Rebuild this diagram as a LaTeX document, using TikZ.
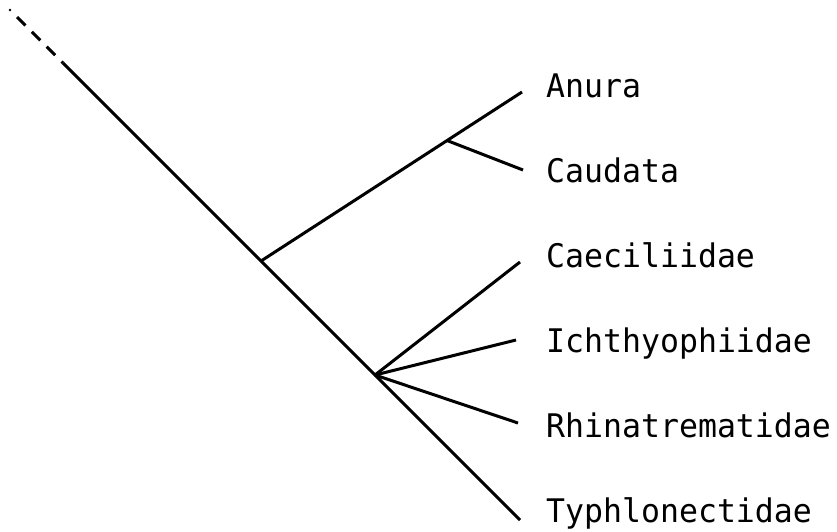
\documentclass[tikz,border=0pt]{standalone}
\usepackage{fontspec}
\newfontfamily\lblfont[FakeStretch=0.97]{DejaVu Sans Mono}
\begin{document}
\begin{tikzpicture}[x=1pt,y=-1pt,
  branch/.style={line width=3pt},
  taxon/.style={anchor=base west,inner sep=0pt,font=\lblfont\fontsize{32.5}{36}\selectfont}]
\useasboundingbox (0,0) rectangle (837,531);
% coordinates
\coordinate (root) at (10,10);
\coordinate (dashstart) at (17,17);
\coordinate (solidstart) at (63,63);
\coordinate (amph) at (261,261);
\coordinate (caec) at (375,375);
\coordinate (batr) at (447,140.5);
\coordinate (tAnura) at (522,92);
\coordinate (tCaudata) at (523,170);
\coordinate (tCaeciliidae) at (520,262);
\coordinate (tIchthyophiidae) at (516,340);
\coordinate (tRhinatrematidae) at (518,423);
\coordinate (tTyphlonectidae) at (520,520);
% labels
\node[taxon] (lAnura) at (546,97) {Anura};
\node[taxon] (lCaudata) at (546,182) {Caudata};
\node[taxon] (lCaeciliidae) at (546,267) {Caeciliidae};
\node[taxon] (lIchthyophiidae) at (546,352) {Ichthyophiidae};
\node[taxon] (lRhinatrematidae) at (546,437) {Rhinatrematidae};
\node[taxon] (lTyphlonectidae) at (546,522) {Typhlonectidae};
% stem
\fill (root) circle (1.4);
\draw[branch,dash pattern=on 12pt off 9pt] (dashstart) -- (solidstart);
\draw[branch] (solidstart) -- (tTyphlonectidae);
% batrachia
\draw[branch] (amph) -- (tAnura);
\draw[branch] (batr) -- (tCaudata);
% caecilians
\draw[branch] (caec) -- (tCaeciliidae);
\draw[branch] (caec) -- (tIchthyophiidae);
\draw[branch] (caec) -- (tRhinatrematidae);
\end{tikzpicture}
\end{document}
